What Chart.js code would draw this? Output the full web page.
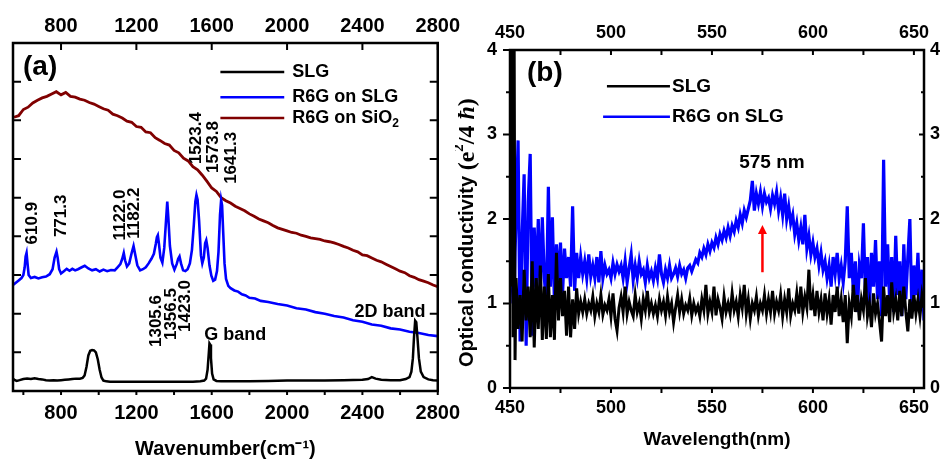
<!DOCTYPE html>
<html>
<head>
<meta charset="utf-8">
<script src="https://cdn.jsdelivr.net/npm/chart.js@4.4.1/dist/chart.umd.min.js"></script>
<style>
  html, body { margin: 0; padding: 0; background: #fff; }
  #wrap { position: relative; width: 942px; height: 459px; overflow: hidden; background: #fff; }
  #chartA { position: absolute; left: 0; top: 0; }
  #chartB { position: absolute; left: 455px; top: 0; }
</style>
</head>
<body>
<div id="wrap">
  <canvas id="chartA" width="470" height="459"></canvas>
  <canvas id="chartB" width="487" height="459"></canvas>
</div>
<script>
/* Panel (a): Raman spectra, panel (b): optical conductivity */

// ---- panel (a) data: wavenumber (cm-1) / intensity (arb. units) ----
const wnTicks = [800, 1200, 1600, 2000, 2400, 2800];
const wnMinor = [600, 800, 1000, 1200, 1400, 1600, 1800, 2000, 2200, 2400, 2600, 2800];
const ramanYTicks = [1, 2, 3, 4, 5, 6, 7, 8];

const slgWn = [545, 555, 565, 580, 600, 620, 640, 660, 680, 700,
  720, 740, 760, 780, 800, 820, 840, 860, 880, 900,
  915, 925, 935, 945, 955, 965, 975, 985, 995, 1005,
  1015, 1025, 1040, 1060, 1100, 1150, 1200, 1250, 1300, 1350,
  1400, 1450, 1500, 1540, 1560, 1570, 1578, 1584, 1588, 1592,
  1596, 1602, 1610, 1625, 1650, 1700, 1800, 1900, 2000, 2100,
  2200, 2300, 2400, 2430, 2450, 2470, 2500, 2550, 2600, 2630,
  2650, 2660, 2668, 2674, 2680, 2686, 2692, 2700, 2710, 2725,
  2750, 2775, 2800];
const slgInt = [0.32, 0.28, 0.26, 0.28, 0.31, 0.32, 0.31, 0.33, 0.31, 0.30,
  0.28, 0.27, 0.28, 0.27, 0.28, 0.29, 0.30, 0.31, 0.32, 0.32,
  0.34, 0.40, 0.62, 0.92, 1.04, 1.06, 1.05, 1.00, 0.82, 0.55,
  0.35, 0.27, 0.25, 0.24, 0.24, 0.24, 0.24, 0.24, 0.24, 0.24,
  0.24, 0.24, 0.24, 0.25, 0.27, 0.32, 0.55, 0.95, 1.23, 1.20,
  0.85, 0.45, 0.30, 0.26, 0.25, 0.25, 0.25, 0.26, 0.27, 0.27,
  0.27, 0.28, 0.29, 0.31, 0.36, 0.32, 0.29, 0.28, 0.28, 0.31,
  0.36, 0.50, 0.85, 1.40, 1.82, 1.78, 1.40, 0.85, 0.50, 0.36,
  0.30, 0.28, 0.27];

const r6gWn = [545, 560, 575, 590, 600, 607, 612, 617, 622, 628,
  640, 660, 680, 700, 720, 740, 755, 766, 776, 782,
  790, 800, 815, 830, 845, 860, 875, 890, 910, 926,
  945, 965, 985, 1005, 1025, 1045, 1065, 1085, 1100, 1115,
  1125, 1133, 1140, 1150, 1162, 1174, 1185, 1193, 1205, 1220,
  1235, 1250, 1265, 1280, 1293, 1303, 1309, 1314, 1320, 1328,
  1338, 1348, 1356, 1364, 1370, 1378, 1390, 1402, 1414, 1422,
  1429, 1437, 1448, 1460, 1472, 1484, 1495, 1505, 1513, 1519,
  1525, 1533, 1543, 1550, 1558, 1565, 1571, 1578, 1588, 1598,
  1608, 1618, 1628, 1636, 1644, 1650, 1655, 1661, 1668, 1676,
  1688, 1700, 1720, 1740, 1760, 1780, 1800, 1830, 1860, 1900,
  1950, 2000, 2050, 2100, 2150, 2200, 2250, 2300, 2350, 2400,
  2450, 2500, 2550, 2600, 2650, 2700, 2750, 2800];
const r6gInt = [2.74, 2.80, 2.86, 2.92, 3.00, 3.20, 3.48, 3.57, 3.30, 3.00,
  2.92, 2.95, 2.91, 2.94, 2.96, 3.02, 3.15, 3.45, 3.60, 3.45,
  3.15, 3.04, 3.10, 3.16, 3.11, 3.16, 3.12, 3.15, 3.20, 3.24,
  3.17, 3.12, 3.15, 3.09, 3.14, 3.10, 3.13, 3.12, 3.20, 3.28,
  3.42, 3.57, 3.38, 3.22, 3.30, 3.55, 3.75, 3.55, 3.25, 3.12,
  3.15, 3.20, 3.30, 3.42, 3.55, 3.80, 3.98, 4.03, 3.80, 3.45,
  3.32, 3.70, 4.30, 4.90, 4.45, 3.75, 3.30, 3.14, 3.28, 3.42,
  3.48, 3.30, 3.12, 3.10, 3.15, 3.30, 3.65, 4.30, 4.90, 5.07,
  4.95, 4.40, 3.50, 3.30, 3.45, 3.82, 3.90, 3.70, 3.25, 2.98,
  2.85, 2.88, 3.10, 3.60, 4.55, 4.94, 4.80, 4.10, 3.30, 2.90,
  2.72, 2.66, 2.60, 2.57, 2.50, 2.47, 2.41, 2.39, 2.33, 2.30,
  2.25, 2.21, 2.14, 2.11, 2.04, 2.00, 1.94, 1.90, 1.83, 1.79,
  1.72, 1.69, 1.62, 1.59, 1.53, 1.50, 1.45, 1.42];

const sio2Wn = [550, 575, 600, 625, 650, 675, 700, 725, 750, 775,
  800, 825, 850, 875, 900, 925, 950, 975, 1000, 1025,
  1050, 1075, 1100, 1125, 1150, 1175, 1200, 1225, 1250, 1275,
  1300, 1325, 1350, 1375, 1400, 1425, 1450, 1475, 1500, 1525,
  1550, 1575, 1600, 1625, 1650, 1675, 1700, 1725, 1750, 1775,
  1800, 1825, 1850, 1875, 1900, 1925, 1950, 1975, 2000, 2025,
  2050, 2075, 2100, 2125, 2150, 2175, 2200, 2225, 2250, 2275,
  2300, 2325, 2350, 2375, 2400, 2425, 2450, 2475, 2500, 2525,
  2550, 2575, 2600, 2625, 2650, 2675, 2700, 2725, 2750, 2775,
  2800];
const sio2Int = [7.08, 7.12, 7.28, 7.34, 7.45, 7.52, 7.58, 7.62, 7.68, 7.74,
  7.66, 7.72, 7.62, 7.60, 7.55, 7.52, 7.46, 7.42, 7.36, 7.30,
  7.26, 7.16, 7.12, 7.06, 6.98, 6.95, 6.84, 6.82, 6.70, 6.68,
  6.55, 6.48, 6.40, 6.36, 6.22, 6.16, 6.02, 5.95, 5.80, 5.72,
  5.58, 5.42, 5.25, 5.16, 5.00, 4.92, 4.86, 4.78, 4.72, 4.66,
  4.58, 4.52, 4.45, 4.40, 4.35, 4.28, 4.22, 4.18, 4.14, 4.10,
  4.08, 4.03, 4.00, 3.96, 3.94, 3.92, 3.88, 3.86, 3.83, 3.79,
  3.74, 3.70, 3.64, 3.60, 3.52, 3.50, 3.44, 3.38, 3.34, 3.28,
  3.22, 3.16, 3.10, 3.06, 2.98, 2.94, 2.88, 2.84, 2.80, 2.74,
  2.70];

// ---- panel (b) data: wavelength (nm) / conductivity (e^2/4hbar) ----
const wlTicks = [450, 500, 550, 600, 650];
const wlMinor = [450, 475, 500, 525, 550, 575, 600, 625, 650];
const condTicks = [0, 1, 2, 3, 4];
const condMinor = [0.5, 1.5, 2.5, 3.5];

const wavelength = [450, 450.5, 451, 451.5, 452, 452.5, 453, 454, 455, 456, 457, 458, 459,
  460, 461, 462, 463, 464, 465, 466, 467, 468, 469,
  470, 471, 472, 473, 474, 475, 476, 477, 478, 479,
  480, 481, 482, 483, 484, 485, 486, 487, 488, 489,
  490, 491, 492, 493, 494, 495, 496, 497, 498, 499,
  500, 501, 502, 503, 504, 505, 506, 507, 508, 509,
  510, 511, 512, 513, 514, 515, 516, 517, 518, 519,
  520, 521, 522, 523, 524, 525, 526, 527, 528, 529,
  530, 531, 532, 533, 534, 535, 536, 537, 538, 539,
  540, 541, 542, 543, 544, 545, 546, 547, 548, 549,
  550, 551, 552, 553, 554, 555, 556, 557, 558, 559,
  560, 561, 562, 563, 564, 565, 566, 567, 568, 569,
  570, 571, 572, 573, 574, 575, 576, 577, 578, 579,
  580, 581, 582, 583, 584, 585, 586, 587, 588, 589,
  590, 591, 592, 593, 594, 595, 596, 597, 598, 599,
  600, 601, 602, 603, 604, 605, 606, 607, 608, 609,
  610, 611, 612, 613, 614, 615, 616, 617, 618, 619,
  620, 621, 622, 623, 624, 625, 626, 627, 628, 629,
  630, 631, 632, 633, 634, 635, 636, 637, 638, 639,
  640, 641, 642, 643, 644, 645, 646, 647, 648, 649,
  650, 651, 652, 653, 654, 655];

const condSLG = [4.6, 1.2, 4.6, 0.6, 4.6, 0.33, 1.3, 0.7, 1.1, 0.55, 1.4, 0.8, 1.2,
  0.6, 1.5, 0.48, 1.3, 0.7, 1.45, 0.57, 1.2, 0.58, 1.35,
  0.6, 1.1, 0.57, 1.6, 0.8, 1.3, 0.85, 1.15, 0.62, 1.2,
  0.6, 1.05, 0.7, 1.18, 0.88, 1.02, 0.9, 1.05, 0.88, 1.0,
  0.92, 1.08, 0.85, 1.0, 0.9, 1.1, 0.87, 0.98, 0.92, 1.05,
  0.85, 1.12, 0.82, 0.68, 0.95, 1.08, 0.9, 1.2, 0.88, 1.02,
  0.92, 0.85, 1.1, 0.9, 1.0, 0.82, 1.05, 0.92, 1.15, 0.9,
  1.0, 0.88, 0.98, 0.85, 1.05, 0.92, 1.02, 0.86, 1.08, 0.9,
  1.0, 0.78, 0.95, 1.1, 0.9, 1.05, 0.88, 0.98, 0.92, 1.06,
  0.86, 1.0, 0.9, 0.97, 0.85, 1.05, 0.92, 1.22, 0.88, 1.02,
  0.9, 1.2, 0.86, 1.05, 0.95, 0.82, 1.08, 0.9, 1.0, 0.88,
  1.12, 0.92, 1.02, 0.85, 1.1, 0.95, 1.22, 0.88, 1.05, 0.82,
  1.0, 0.92, 1.08, 0.86, 1.0, 0.92, 1.1, 0.88, 1.05, 0.9,
  1.15, 0.88, 1.02, 0.92, 1.1, 0.85, 1.05, 0.9, 1.18, 0.86,
  1.0, 0.92, 1.12, 0.88, 1.2, 0.9, 1.08, 0.95, 1.4, 0.92,
  1.1, 0.85, 1.15, 0.9, 1.05, 0.8, 1.12, 0.88, 1.05, 0.75,
  1.1, 0.9, 1.2, 0.85, 1.05, 0.78, 1.1, 0.53, 1.0, 0.85,
  1.22, 0.9, 1.1, 0.8, 1.05, 0.92, 1.3, 0.85, 1.0, 0.72,
  1.12, 0.88, 1.0, 0.78, 0.55, 1.2, 0.85, 1.1, 0.78, 1.25,
  0.9, 1.05, 0.8, 1.15, 0.85, 1.2, 0.9, 0.67, 1.05, 0.82,
  1.1, 0.88, 1.05, 0.85, 1.1, 0.95];

const condR6G = [1.0, 1.7, 2.35, 1.3, 0.9, 1.6, 2.0, 2.93, 0.55, 1.8, 2.53, 0.5, 2.2,
  2.77, 0.62, 1.9, 1.2, 2.0, 1.1, 2.02, 1.3, 1.0, 2.38,
  1.2, 2.02, 1.0, 1.7, 1.25, 1.72, 1.1, 1.65, 1.3, 1.55,
  1.2, 2.15, 1.15, 1.6, 1.3, 1.55, 1.35, 1.5, 1.3, 1.58,
  1.32, 1.45, 1.3, 1.55, 1.25, 1.62, 1.3, 1.45, 1.35, 1.4,
  1.3, 1.48, 1.35, 1.46, 1.38, 1.45, 1.3, 1.5, 1.25, 1.42,
  1.58, 1.28, 1.45, 1.3, 1.5, 1.35, 1.4, 1.25, 1.45, 1.3,
  1.38, 1.27, 1.42, 1.3, 1.58, 1.35, 1.25, 1.4, 1.3, 1.45,
  1.3, 1.35, 1.42, 1.32, 1.45, 1.35, 1.4, 1.3, 1.42, 1.45,
  1.38, 1.45, 1.52, 1.48, 1.6, 1.55, 1.65, 1.58, 1.7, 1.62,
  1.72, 1.66, 1.78, 1.7, 1.82, 1.75, 1.86, 1.78, 1.9, 1.8,
  1.92, 1.85, 1.98, 1.9, 2.05, 1.95, 2.1, 2.02, 2.12, 2.22,
  2.45, 2.1, 2.3, 2.18, 2.32, 2.15, 2.3, 2.2, 2.25, 2.12,
  2.28, 2.18, 2.32, 2.1, 2.25, 2.05, 2.3, 2.0, 2.15, 1.95,
  2.05, 1.82, 1.95, 1.75, 1.9, 1.7, 2.05, 1.65, 1.8, 1.58,
  1.72, 1.55, 1.65, 1.45, 1.6, 1.4, 1.5, 1.3, 1.45, 1.2,
  1.55, 1.35, 1.6, 1.3, 1.45, 1.25, 1.5, 2.15, 1.3, 1.6,
  1.15, 1.5, 0.9, 1.45, 1.3, 1.95, 1.1, 1.55, 0.95, 1.6,
  1.2, 1.75, 1.05, 1.5, 0.85, 2.7, 1.2, 1.7, 1.0, 1.55,
  0.9, 1.8, 1.1, 1.5, 0.85, 1.7, 1.05, 1.55, 2.0, 0.9,
  1.45, 1.1, 1.6, 0.95, 1.4, 0.8];

// ---- look ----
const COLORS = { slg: "#000000", r6g: "#0000ff", sio2: "#800000", arrow: "#ff0000" };
const SANS = '"Liberation Sans", Arial, sans-serif';
const SERIF = '"Liberation Serif", "Times New Roman", serif';
const bold = (size) => `bold ${size}px ${SANS}`;

const pts = (xs, ys) => xs.map((x, i) => ({ x, y: ys[i] }));

// draw a run of text pieces (allows sub/superscripts), optionally rotated
function drawParts(ctx, parts, x, y, rot, align) {
  ctx.save();
  ctx.translate(x, y);
  if (rot) ctx.rotate(rot);
  ctx.textBaseline = "middle";
  ctx.textAlign = "left";
  let w = 0;
  parts.forEach((p) => { ctx.font = p.font; w += ctx.measureText(p.t).width; });
  let cx = align === "center" ? -w / 2 : 0;
  parts.forEach((p) => {
    ctx.font = p.font;
    ctx.fillStyle = p.color || "#000";
    ctx.fillText(p.t, cx, p.dy || 0);
    cx += ctx.measureText(p.t).width;
  });
  ctx.restore();
}

// box around the plot area plus tick marks (inward / outward like Origin)
function makeFrame(cfg) {
  return {
    id: "frame",
    afterDatasetsDraw(chart) {
      const { ctx, chartArea: a } = chart;
      ctx.save();
      ctx.strokeStyle = "#000";
      ctx.lineWidth = cfg.width;
      ctx.strokeRect(a.left, a.top, a.right - a.left, a.bottom - a.top);
      ctx.lineWidth = cfg.tickWidth;
      cfg.marks.forEach((m) => {
        const s = chart.scales[m.scale];
        ctx.beginPath();
        m.values.forEach((v) => {
          const p = s.getPixelForValue(v);
          if (m.edge === "bottom") { ctx.moveTo(p, a.bottom); ctx.lineTo(p, a.bottom + m.dir * m.len); }
          if (m.edge === "top") { ctx.moveTo(p, a.top); ctx.lineTo(p, a.top - m.dir * m.len); }
          if (m.edge === "left") { ctx.moveTo(a.left, p); ctx.lineTo(a.left - m.dir * m.len, p); }
          if (m.edge === "right") { ctx.moveTo(a.right, p); ctx.lineTo(a.right + m.dir * m.len, p); }
        });
        ctx.stroke();
      });
      ctx.restore();
    },
  };
}

// legend lines, peak labels, arrow - placed in data coordinates
function makeNotes(cfg) {
  return {
    id: "notes",
    afterDraw(chart) {
      const { ctx, chartArea: a } = chart;
      const xs = chart.scales.x;
      const ys = chart.scales.y;
      (cfg.lines || []).forEach((l) => {
        ctx.save();
        ctx.strokeStyle = l.color;
        ctx.lineWidth = l.width;
        ctx.beginPath();
        ctx.moveTo(xs.getPixelForValue(l.x1), ys.getPixelForValue(l.y));
        ctx.lineTo(xs.getPixelForValue(l.x2), ys.getPixelForValue(l.y));
        ctx.stroke();
        ctx.restore();
      });
      (cfg.texts || []).forEach((t) =>
        drawParts(ctx, t.parts, xs.getPixelForValue(t.x), ys.getPixelForValue(t.y), t.rot, t.align));
      (cfg.arrows || []).forEach((r) => {
        const px = xs.getPixelForValue(r.x);
        const y1 = ys.getPixelForValue(r.y1);
        const y2 = ys.getPixelForValue(r.y2);
        ctx.save();
        ctx.strokeStyle = r.color;
        ctx.fillStyle = r.color;
        ctx.lineWidth = r.width;
        ctx.beginPath();
        ctx.moveTo(px, y1);
        ctx.lineTo(px, y2 + r.head);
        ctx.stroke();
        ctx.beginPath();
        ctx.moveTo(px, y2);
        ctx.lineTo(px - r.head / 2, y2 + r.head);
        ctx.lineTo(px + r.head / 2, y2 + r.head);
        ctx.closePath();
        ctx.fill();
        ctx.restore();
      });
      if (cfg.yTitle) {
        drawParts(ctx, cfg.yTitle.parts, a.left - cfg.yTitle.dx, a.bottom - cfg.yTitle.dy, -Math.PI / 2, "left");
      }
    },
  };
}

function hiddenAxis(position, min, max, size) {
  return {
    type: "linear", position, min, max,
    ticks: { display: false },
    grid: { display: false, drawTicks: false },
    border: { display: false },
    afterFit: (s) => { s.width = size; },
  };
}

function labelAxis(position, min, max, values, fontSize, pad, size, horizontal) {
  return {
    type: "linear", position, min, max,
    afterBuildTicks: (s) => { s.ticks = values.map((v) => ({ value: v })); },
    afterFit: (s) => { if (horizontal) s.height = size; else s.width = size; },
    grid: { display: false, drawTicks: false },
    border: { display: false },
    ticks: {
      color: "#000", padding: pad, autoSkip: false, maxRotation: 0,
      font: { family: SANS, size: fontSize, weight: "bold" },
      callback: (v) => String(v),
    },
  };
}

// ---------------- chart (a) ----------------
const peakFont = bold(17);
const vert = -Math.PI / 2;
const peakLabels = [
  ["610.9", 645, 4.34], ["771.3", 799, 4.53], ["1122.0", 1117, 4.55], ["1182.2", 1191, 4.60],
  ["1523.4", 1519, 6.54], ["1573.8", 1609, 6.31], ["1641.3", 1704, 6.03],
  ["1305.6", 1307, 1.81], ["1356.5", 1387, 1.99], ["1423.0", 1461, 2.20],
];

const scalesA = {
  x: labelAxis("bottom", 545, 2800, wnTicks, 20, 10, 68, true),
  x2: labelAxis("top", 545, 2800, wnTicks, 20, 5, 43, true),
  y: hiddenAxis("left", 0, 9, 13),
  y2: hiddenAxis("right", 0, 9, 31),
};
scalesA.x.title = {
  display: true, text: "Wavenumber(cm\u207B\u00B9)", color: "#000",
  font: { family: SANS, size: 20, weight: "bold", lineHeight: 1 }, padding: { top: 0, bottom: 0 },
};

new Chart(document.getElementById("chartA"), {
  type: "line",
  data: {
    datasets: [
      { label: "SLG", data: pts(slgWn, slgInt), borderColor: COLORS.slg, borderWidth: 2.5 },
      { label: "R6G on SLG", data: pts(r6gWn, r6gInt), borderColor: COLORS.r6g, borderWidth: 2.6 },
      { label: "R6G on SiO2", data: pts(sio2Wn, sio2Int), borderColor: COLORS.sio2, borderWidth: 2.8 },
    ],
  },
  options: {
    responsive: false,
    devicePixelRatio: 1,
    animation: false,
    events: [],
    layout: { padding: 0 },
    elements: { point: { radius: 0 }, line: { tension: 0 } },
    plugins: { legend: { display: false }, tooltip: { enabled: false } },
    scales: scalesA,
  },
  plugins: [
    makeFrame({
      width: 2.5, tickWidth: 2,
      marks: [
        { scale: "x", edge: "bottom", values: wnMinor, len: 4, dir: 1 },
        { scale: "x", edge: "top", values: wnTicks, len: 7, dir: -1 },
        { scale: "y", edge: "left", values: ramanYTicks, len: 8, dir: -1 },
        { scale: "y", edge: "right", values: ramanYTicks, len: 8, dir: -1 },
      ],
    }),
    makeNotes({
      lines: [
        { x1: 1646, x2: 1985, y: 8.25, color: COLORS.slg, width: 2.5 },
        { x1: 1646, x2: 1985, y: 7.60, color: COLORS.r6g, width: 2.5 },
        { x1: 1646, x2: 1985, y: 7.06, color: COLORS.sio2, width: 2.5 },
      ],
      texts: [
        { x: 598, y: 8.38, align: "left", parts: [{ t: "(a)", font: bold(28) }] },
        { x: 2027, y: 8.25, align: "left", parts: [{ t: "SLG", font: bold(18) }] },
        { x: 2027, y: 7.60, align: "left", parts: [{ t: "R6G on SLG", font: bold(18) }] },
        { x: 2027, y: 7.06, align: "left", parts: [{ t: "R6G on SiO", font: bold(18) }, { t: "2", font: bold(12), dy: 6 }] },
        { x: 1725, y: 1.45, align: "center", parts: [{ t: "G band", font: bold(18) }] },
        { x: 2546, y: 2.04, align: "center", parts: [{ t: "2D band", font: bold(18) }] },
        ...peakLabels.map(([t, x, y]) => ({ x, y, rot: vert, align: "center", parts: [{ t, font: peakFont }] })),
      ],
    }),
  ],
});

// ---------------- chart (b) ----------------
const scalesB = {
  x: labelAxis("bottom", 450, 655, wlTicks, 18, 9.5, 71, true),
  x2: labelAxis("top", 450, 655, wlTicks, 18, 6, 50, true),
  y: labelAxis("left", 0, 4, condTicks, 18, 13, 55, false),
  y2: labelAxis("right", 0, 4, condTicks, 18, 6, 18, false),
};
scalesB.x.title = {
  display: true, text: "Wavelength(nm)", color: "#000",
  font: { family: SANS, size: 19, weight: "bold", lineHeight: 1 }, padding: { top: 0, bottom: 9.5 },
};

new Chart(document.getElementById("chartB"), {
  type: "line",
  data: {
    datasets: [
      { label: "SLG", data: pts(wavelength, condSLG), borderColor: COLORS.slg, borderWidth: 3, clip: 0 },
      { label: "R6G on SLG", data: pts(wavelength, condR6G), borderColor: COLORS.r6g, borderWidth: 3.2, clip: 0 },
    ],
  },
  options: {
    responsive: false,
    devicePixelRatio: 1,
    animation: false,
    events: [],
    layout: { padding: 0 },
    elements: { point: { radius: 0 }, line: { tension: 0 } },
    plugins: { legend: { display: false }, tooltip: { enabled: false } },
    scales: scalesB,
  },
  plugins: [
    makeFrame({
      width: 2.5, tickWidth: 2,
      marks: [
        { scale: "x", edge: "bottom", values: wlMinor, len: 5, dir: 1 },
        { scale: "x", edge: "top", values: wlMinor, len: 5, dir: -1 },
        { scale: "y", edge: "left", values: condTicks, len: 7, dir: 1 },
        { scale: "y", edge: "left", values: condMinor, len: 4, dir: 1 },
        { scale: "y", edge: "right", values: condTicks, len: 5, dir: -1 },
        { scale: "y", edge: "right", values: condMinor, len: 3, dir: -1 },
      ],
    }),
    makeNotes({
      lines: [
        { x1: 498.0, x2: 529.2, y: 3.57, color: COLORS.slg, width: 2.5 },
        { x1: 496.1, x2: 529.2, y: 3.21, color: COLORS.r6g, width: 2.5 },
      ],
      texts: [
        { x: 458.4, y: 3.73, align: "left", parts: [{ t: "(b)", font: bold(28) }] },
        { x: 530.2, y: 3.57, align: "left", parts: [{ t: "SLG", font: bold(19) }] },
        { x: 530.2, y: 3.21, align: "left", parts: [{ t: "R6G on SLG", font: bold(19) }] },
        { x: 579.7, y: 2.67, align: "center", parts: [{ t: "575 nm", font: bold(19) }] },
      ],
      arrows: [{ x: 575, y1: 1.37, y2: 1.93, color: COLORS.arrow, width: 2.5, head: 9 }],
      yTitle: {
        dx: 42.5, dy: 21,
        parts: [
          { t: "Optical conductivity ", font: bold(20) },
          { t: "(e", font: `bold 24px ${SERIF}` },
          { t: "2", font: `bold 15px ${SERIF}`, dy: -8 },
          { t: "/4 ", font: `bold 24px ${SERIF}` },
          { t: "\u0127", font: `italic bold 24px ${SERIF}` },
          { t: ")", font: `bold 24px ${SERIF}` },
        ],
      },
    }),
  ],
});
</script>
</body>
</html>
